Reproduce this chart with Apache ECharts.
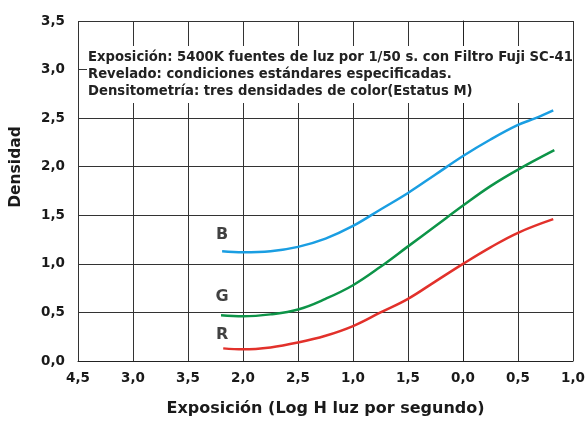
<!DOCTYPE html>
<html>
<head>
<meta charset="utf-8">
<script src="https://cdn.jsdelivr.net/npm/echarts@6/dist/echarts.min.js"></script>
<style>
html,body{margin:0;padding:0;background:#fff;}
#c{width:588px;height:422px;}
</style>
</head>
<body>
<div id="c"></div>
<script>
var xTickLabels = ['4,5','3,0','3,5','2,0','2,5','1,0','1,5','0,0','0,5','1,0'];

var blueX = [-2.19,-2.0,-1.75,-1.5,-1.25,-1.0,-0.75,-0.5,-0.25,0.0,0.25,0.5,0.66,0.82];
var blueY = [1.13,1.12,1.13,1.175,1.26,1.39,1.56,1.73,1.92,2.11,2.28,2.43,2.5,2.58];

var greenX = [-2.2,-2.0,-1.75,-1.5,-1.25,-1.0,-0.75,-0.5,-0.25,0.0,0.25,0.5,0.83];
var greenY = [0.47,0.46,0.48,0.53,0.64,0.78,0.97,1.18,1.39,1.6,1.8,1.97,2.17];

var redX = [-2.18,-2.0,-1.75,-1.5,-1.25,-1.0,-0.75,-0.5,-0.25,0.0,0.25,0.5,0.82];
var redY = [0.13,0.12,0.14,0.19,0.26,0.36,0.5,0.64,0.82,1.0,1.17,1.32,1.46];

var curveNames = ['B','G','R'];
var curveLabelX = [-2.19,-2.19,-2.19];
var curveLabelY = [1.30,0.66,0.27];

var noteLines = [
  'Exposición: 5400K fuentes de luz por 1/50 s. con Filtro Fuji SC-41',
  'Revelado: condiciones estándares especificadas.',
  'Densitometría: tres densidades de color(Estatus M)'
];

function pairs(xs, ys){ return xs.map(function(x,i){ return [x, ys[i]]; }); }

var FONT = '"DejaVu Sans", Verdana, sans-serif';
var chart = echarts.init(document.getElementById('c'), null, {renderer:'canvas'});
chart.setOption({
  animation:false,
  backgroundColor:'#fff',
  grid:{left:76, right:10, top:21, bottom:60, containLabel:false},
  xAxis:{
    type:'value', min:-3.5, max:1.0, interval:0.5,
    name:'Exposición (Log H luz por segundo)', nameLocation:'middle', nameGap:40,
    nameTextStyle:{fontFamily:FONT, fontWeight:'bold', fontSize:16, color:'#1a1a1a'},
    axisLine:{show:true, lineStyle:{color:'#222', width:1}},
    axisTick:{show:false},
    axisLabel:{fontFamily:FONT, fontWeight:'bold', fontSize:13.5, color:'#1a1a1a', margin:10,
      formatter:function(v){ var i=Math.round((v+3.5)/0.5); return xTickLabels[i]; }},
    splitLine:{show:true, lineStyle:{color:'#333', width:1}}
  },
  yAxis:{
    type:'value', min:0, max:3.5, interval:0.5,
    name:'Densidad', nameLocation:'middle', nameGap:54, nameRotate:90,
    nameTextStyle:{fontFamily:FONT, fontWeight:'bold', fontSize:15.5, color:'#1a1a1a', padding:[0,0,0,48]},
    axisLine:{show:true, lineStyle:{color:'#222', width:1}},
    axisTick:{show:false},
    axisLabel:{fontFamily:FONT, fontWeight:'bold', fontSize:13.5, color:'#1a1a1a', margin:13,
      formatter:function(v){ return v.toFixed(1).replace('.',','); }},
    splitLine:{show:true, lineStyle:{color:'#333', width:1}}
  },
  graphic:[
    {type:'rect', z:100, shape:{x:87, y:46, width:486, height:57}, style:{fill:'#fff'}},
    {type:'text', z:101, x:88, y:49.5, style:{text:noteLines.join('\n'), font:'bold 13.2px '+FONT, fill:'#222', lineHeight:17}}
  ],
  series:[
    {type:'line', name:'B', data:pairs(blueX,blueY), smooth:0.4, symbol:'none', lineStyle:{color:'#1a9ee2', width:2.5}, z:5},
    {type:'line', name:'G', data:pairs(greenX,greenY), smooth:0.4, symbol:'none', lineStyle:{color:'#0d9448', width:2.5}, z:5},
    {type:'line', name:'R', data:pairs(redX,redY), smooth:0.4, symbol:'none', lineStyle:{color:'#e2312b', width:2.5}, z:5},
    {type:'scatter', symbolSize:0, z:6,
     data:curveNames.map(function(n,i){ return {value:[curveLabelX[i], curveLabelY[i]], name:n}; }),
     label:{show:true, position:'inside', formatter:'{b}', fontFamily:FONT, fontWeight:'bold', fontSize:16, color:'#111'}}
  ]
});
</script>
</body>
</html>
